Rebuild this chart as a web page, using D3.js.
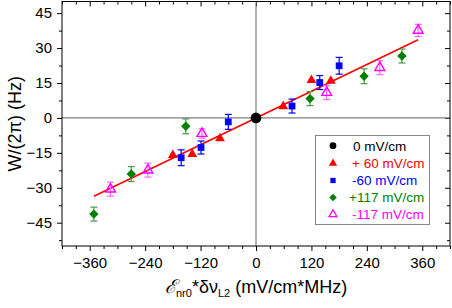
<!DOCTYPE html>
<html>
<head>
<meta charset="utf-8">
<script src="https://cdn.jsdelivr.net/npm/d3@7"></script>
<style>
  body { margin: 0; background: #fff; }
  svg { display: block; }
  text { font-family: "Liberation Sans", Arial, Helvetica, sans-serif; }
</style>
</head>
<body>
<svg id="chart" width="452" height="308"></svg>
<script>
// ---- data ----
const zeroX = [0];
const zeroY = [0];

const plus60X = [-180, -138, -78, 59, 120, 162];
const plus60Y = [-16.0, -15.6, -8.8, 5.0, 16.2, 15.9];

const minus60X = [-162, -119, -60, 78, 138, 180];
const minus60Y = [-17.1, -12.7, -1.7, 5.1, 15.2, 22.4];
const minus60Err = [3.4, 2.8, 3.2, 3.0, 3.0, 3.6];

const plus117X = [-351, -270, -152, 117, 234, 316];
const plus117Y = [-41.3, -24.1, -3.6, 8.3, 17.9, 26.6];
const plus117Err = [3.0, 3.2, 3.2, 3.0, 3.2, 3.0];

const minus117X = [-315, -234, -117, 153, 268, 351];
const minus117Y = [-30.6, -22.4, -6.7, 10.9, 21.6, 37.6];
const minus117Err = [3.0, 3.0, 2.0, 3.0, 3.0, 2.6];

const fitX = [-351, 351];
const fitY = [-33.6, 33.6];

const xMajorTicks = [-360, -240, -120, 0, 120, 240, 360];
const yMajorTicks = [-45, -30, -15, 0, 15, 30, 45];

const legendLabels = ["0 mV/cm", "+ 60 mV/cm", "-60 mV/cm", "+117 mV/cm", "-117 mV/cm"];

// ---- layout ----
const svg = d3.select("#chart");
const L = 62, R = 450, T = 1.5, B = 246;
const x = d3.scaleLinear().domain([-420, 420]).range([L, R]);
const y = d3.scaleLinear().domain([-55, 50]).range([B, T]);

const xMinor = d3.range(-420, 421, 30).filter(v => !xMajorTicks.includes(v));
const yMinor = d3.range(-52.5, 50, 7.5).filter(v => !yMajorTicks.includes(v));

function styleAxis(g) {
  g.select(".domain").remove();
  g.selectAll("line").attr("stroke", "#000").attr("stroke-width", 1);
  g.selectAll("text").attr("font-size", 15).attr("fill", "#000")
    .attr("font-family", "Liberation Sans, Arial, sans-serif");
}

// bottom
svg.append("g").attr("transform", `translate(0,${B})`)
  .call(d3.axisBottom(x).tickValues(xMajorTicks).tickSize(5).tickPadding(6).tickFormat(d3.format("d")))
  .call(styleAxis);
svg.append("g").attr("transform", `translate(0,${B})`)
  .call(d3.axisBottom(x).tickValues(xMinor).tickSize(3).tickFormat(""))
  .call(styleAxis);
// top (inward)
svg.append("g").attr("transform", `translate(0,${T})`)
  .call(d3.axisBottom(x).tickValues(xMajorTicks).tickSize(5).tickFormat(""))
  .call(styleAxis);
svg.append("g").attr("transform", `translate(0,${T})`)
  .call(d3.axisBottom(x).tickValues(xMinor).tickSize(3).tickFormat(""))
  .call(styleAxis);
// left
svg.append("g").attr("transform", `translate(${L},0)`)
  .call(d3.axisLeft(y).tickValues(yMajorTicks).tickSize(5).tickPadding(5).tickFormat(d3.format("d")))
  .call(styleAxis);
svg.append("g").attr("transform", `translate(${L},0)`)
  .call(d3.axisLeft(y).tickValues(yMinor).tickSize(3).tickFormat(""))
  .call(styleAxis);
// right (inward)
svg.append("g").attr("transform", `translate(${R},0)`)
  .call(d3.axisLeft(y).tickValues(yMajorTicks).tickSize(5).tickFormat(""))
  .call(styleAxis);
svg.append("g").attr("transform", `translate(${R},0)`)
  .call(d3.axisLeft(y).tickValues(yMinor).tickSize(3).tickFormat(""))
  .call(styleAxis);

// zero lines
svg.append("line").attr("x1", L).attr("x2", R).attr("y1", y(0)).attr("y2", y(0))
  .attr("stroke", "#808080").attr("stroke-width", 1.2);
svg.append("line").attr("x1", x(0)).attr("x2", x(0)).attr("y1", T).attr("y2", B)
  .attr("stroke", "#808080").attr("stroke-width", 1.2);

// frame
svg.append("rect").attr("x", L).attr("y", T).attr("width", R - L).attr("height", B - T)
  .attr("fill", "none").attr("stroke", "#000").attr("stroke-width", 1);

// fit line
svg.append("line")
  .attr("x1", x(fitX[0])).attr("y1", y(fitY[0]))
  .attr("x2", x(fitX[1])).attr("y2", y(fitY[1]))
  .attr("stroke", "#ff0000").attr("stroke-width", 1.6);

// error bars
function errBars(xs, ys, es, color, cap) {
  const g = svg.append("g").attr("stroke", color).attr("stroke-width", 1.2).attr("fill", "none");
  xs.forEach((xv, i) => {
    const cx = x(xv), y1 = y(ys[i] - es[i]), y2 = y(ys[i] + es[i]);
    g.append("line").attr("x1", cx).attr("x2", cx).attr("y1", y1).attr("y2", y2);
    g.append("line").attr("x1", cx - cap).attr("x2", cx + cap).attr("y1", y1).attr("y2", y1);
    g.append("line").attr("x1", cx - cap).attr("x2", cx + cap).attr("y1", y2).attr("y2", y2);
  });
}
errBars(plus117X, plus117Y, plus117Err, "#4a9a4a", 3.5);
errBars(minus117X, minus117Y, minus117Err, "#ff66ff", 3.5);
errBars(minus60X, minus60Y, minus60Err, "#0000ff", 3.5);

// symbols
const triPath = d3.symbol().type(d3.symbolTriangle).size(42)();
const sqPath = d3.symbol().type(d3.symbolSquare).size(46)();
const diaPath = d3.symbol().type(d3.symbolSquare).size(44)();
const circPath = d3.symbol().type(d3.symbolCircle).size(90)();

function points(xs, ys, path, fill, stroke, rot) {
  svg.append("g").selectAll("path").data(xs).join("path")
    .attr("d", path)
    .attr("transform", (d, i) => `translate(${x(d)},${y(ys[i])})` + (rot ? ` rotate(${rot})` : ""))
    .attr("fill", fill)
    .attr("stroke", stroke || "none")
    .attr("stroke-width", stroke ? 1.4 : 0);
}
points(plus117X, plus117Y, diaPath, "#007f00", null, 45);
points(minus117X, minus117Y, triPath, "none", "#ff00ff");
points(minus60X, minus60Y, sqPath, "#0000ff");
points(plus60X, plus60Y, triPath, "#ff0000");
points(zeroX, zeroY, circPath, "#000");

// legend
const lg = svg.append("g");
lg.append("rect").attr("x", 315.5).attr("y", 135.5).attr("width", 114).attr("height", 89)
  .attr("fill", "#fff").attr("stroke", "#888").attr("stroke-width", 1);
const legColors = ["#000", "#ff0000", "#0000ff", "#007f00", "#ff00ff"];
const legRowsY = [145.7, 163.4, 180.5, 197.6, 214.3];
const legTextX = [353, 352, 352, 349, 352];
const legSym = [
  {p: d3.symbol().type(d3.symbolCircle).size(36)(), fill: "#000"},
  {p: d3.symbol().type(d3.symbolTriangle).size(30)(), fill: "#ff0000"},
  {p: d3.symbol().type(d3.symbolSquare).size(28)(), fill: "#0000ff"},
  {p: d3.symbol().type(d3.symbolSquare).size(28)(), fill: "#007f00", rot: 45},
  {p: d3.symbol().type(d3.symbolTriangle).size(26)(), fill: "none", stroke: "#ff00ff"}
];
legendLabels.forEach((t, i) => {
  const s = legSym[i];
  lg.append("path").attr("d", s.p)
    .attr("transform", `translate(333,${legRowsY[i]})` + (s.rot ? ` rotate(${s.rot})` : ""))
    .attr("fill", s.fill).attr("stroke", s.stroke || "none").attr("stroke-width", 1.3);
  lg.append("text").attr("x", legTextX[i]).attr("y", legRowsY[i]).attr("dy", "0.36em")
    .attr("font-size", 13.5).attr("fill", legColors[i]).text(t);
});

// y title
svg.append("text")
  .attr("transform", `translate(21,${(T + B) / 2}) rotate(-90)`)
  .attr("text-anchor", "middle").attr("font-size", 18).attr("fill", "#000")
  .text("W/(2π) (Hz)");

// x title
const xt = svg.append("text").attr("x", 165).attr("y", 293).attr("font-size", 18).attr("fill", "#000");
xt.append("tspan").attr("font-style", "italic").attr("font-family", "DejaVu Serif, serif").attr("font-size", 19).text("ℰ");
xt.append("tspan").attr("font-size", 11).attr("dy", 4).text("nr0");
xt.append("tspan").attr("dy", -4).text("*δν");
xt.append("tspan").attr("font-size", 11).attr("dy", 4).text("L2");
xt.append("tspan").attr("dy", -4).text(" (mV/cm*MHz)");
</script>
</body>
</html>
